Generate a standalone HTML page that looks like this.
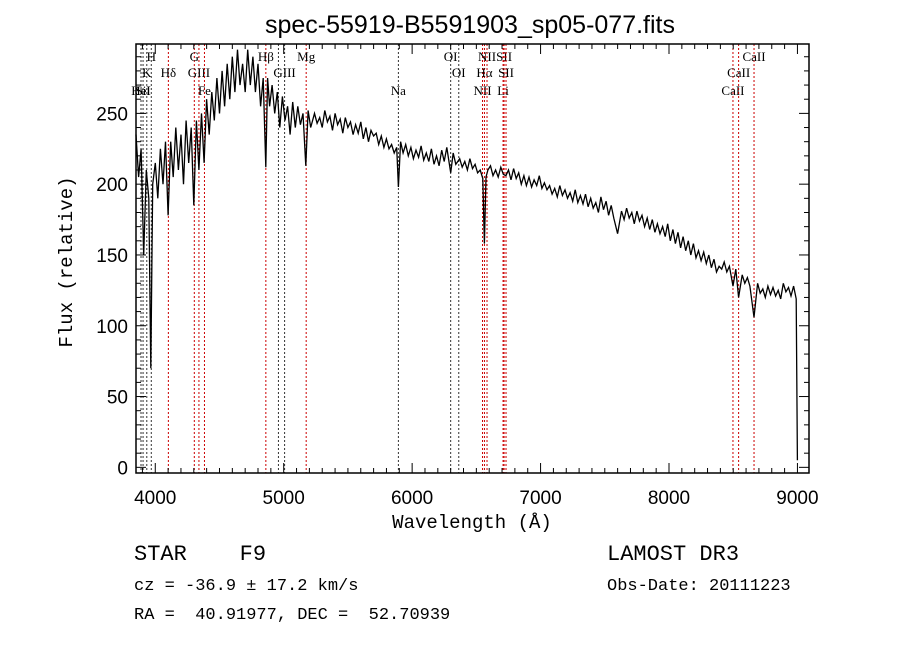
<!DOCTYPE html>
<html><head><meta charset="utf-8"><style>
body{margin:0;background:#fff;width:900px;height:649px;overflow:hidden}
svg{display:block}
text{white-space:pre}
.t{font-family:"Liberation Serif",serif;font-size:13px;fill:#000}
.ax{font-family:"Liberation Sans",sans-serif;font-size:19px;fill:#000}
.m{font-family:"Liberation Mono",monospace;fill:#000}
</style></head><body>
<svg id="chart" width="900" height="649" viewBox="0 0 900 649" xmlns="http://www.w3.org/2000/svg" xml:space="preserve">
<text x="470" y="33" text-anchor="middle" font-family="Liberation Sans, sans-serif" font-size="25">spec-55919-B5591903_sp05-077.fits</text>
<g id="lines"></g>
<g id="spec"></g>
<rect x="136" y="44" width="673" height="429" fill="none" stroke="#000" stroke-width="1.5"/>
<g id="axes"></g>
<text x="472" y="528" text-anchor="middle" class="m" font-size="19">Wavelength (Å)</text>
<text transform="translate(72,262) rotate(-90)" text-anchor="middle" class="m" font-size="19">Flux (relative)</text>
<text x="134" y="560" class="m" font-size="22">STAR    F9</text>
<text x="134" y="590" class="m" font-size="17">cz = -36.9 ± 17.2 km/s</text>
<text x="134" y="619" class="m" font-size="17">RA =  40.91977, DEC =  52.70939</text>
<text x="607" y="560" class="m" font-size="22">LAMOST DR3</text>
<text x="607" y="590" class="m" font-size="17">Obs-Date: 20111223</text>
</svg>
<script>
const wave=[3850,3870,3890,3910,3930,3950,3965,3980,4000,4020,
4040,4060,4080,4100,4120,4140,4160,4180,4200,4220,
4240,4260,4280,4300,4320,4340,4360,4380,4400,4420,
4440,4460,4480,4500,4520,4540,4560,4580,4600,4620,
4640,4660,4680,4700,4720,4740,4760,4780,4800,4820,
4840,4861,4875,4890,4910,4930,4950,4970,4990,5010,
5030,5050,5070,5090,5110,5130,5150,5172,5190,5210,
5240,5260,5280,5300,5320,5340,5360,5380,5400,5420,
5440,5460,5480,5500,5520,5540,5560,5580,5600,5620,
5640,5660,5680,5700,5720,5740,5760,5780,5800,5820,
5840,5860,5880,5893,5910,5930,5950,5970,5990,6010,
6030,6050,6070,6090,6110,6130,6150,6170,6190,6210,
6230,6250,6270,6300,6320,6340,6370,6390,6410,6430,
6450,6470,6490,6510,6530,6550,6563,6575,6590,6610,
6630,6650,6670,6690,6710,6730,6750,6770,6790,6810,
6830,6850,6870,6890,6910,6930,6950,6970,6990,7010,
7030,7050,7070,7090,7110,7130,7150,7170,7190,7210,
7230,7250,7270,7290,7310,7330,7350,7370,7390,7410,
7430,7450,7470,7490,7510,7530,7550,7570,7600,7630,
7650,7670,7690,7710,7730,7750,7770,7790,7810,7830,
7850,7870,7890,7910,7930,7950,7970,7990,8010,8030,
8050,8070,8090,8110,8130,8150,8170,8190,8210,8230,
8250,8270,8290,8310,8330,8350,8370,8390,8410,8430,
8450,8470,8498,8520,8542,8570,8590,8610,8630,8662,
8690,8710,8730,8750,8770,8790,8810,8830,8850,8870,
8890,8910,8930,8950,8970,8990,9000];
const flux=[235,205,225,150,210,190,70,200,215,190,
225,200,230,178,230,205,240,210,235,200,
245,215,240,185,245,210,250,215,260,235,
265,245,275,250,280,255,285,260,290,265,
295,270,285,265,295,270,290,265,285,255,
275,212,275,255,270,250,265,240,262,245,
255,235,258,240,255,242,250,213,252,240,
250,243,247,240,252,244,248,238,250,242,
246,236,247,240,244,235,242,236,244,232,
240,230,238,234,236,228,234,226,232,225,
228,222,226,198,230,222,228,220,226,218,
224,219,227,217,222,216,225,214,220,213,
224,216,226,208,222,214,218,212,216,210,
218,211,214,208,210,204,158,205,210,213,
206,210,205,212,207,206,210,203,211,204,
208,200,206,199,205,198,203,199,206,197,
201,196,199,193,197,191,199,192,196,190,
194,188,196,187,192,186,193,184,190,183,
187,180,191,182,188,178,185,176,165,181,
175,183,176,180,172,181,174,178,170,176,
168,175,166,172,165,170,163,172,160,168,
158,166,155,163,153,160,150,158,148,153,
146,152,144,150,141,147,138,142,140,145,
138,142,128,140,120,136,130,134,128,106,
130,123,126,120,128,122,127,121,125,119,
130,124,127,121,128,119,5];
const lineWave=[3889,3905,3934,3969,4102,4304,4340,4383,4861,4959,5007,5175,5893,6300,6363,6548,6563,6583,6708,6716,6731,8498,8542,8662];
const lineLabel=["HeI","SiI","K","H","Hδ","G","GIII","Fe","Hβ","","GIII","Mg","Na","OI","OI","NII","Hα","NII","Li","SII","SII","CaII","CaII","CaII"];
const lineRow=[3,3,2,1,2,1,2,3,1,3,2,1,3,1,2,3,2,1,3,1,2,3,2,1];
const lineRed=[0,0,0,0,1,1,1,1,1,0,0,1,0,0,0,1,1,1,1,1,1,1,1,1];
const xTicks=[4000,5000,6000,7000,8000,9000];
const yTicks=[0,50,100,150,200,250];
const X0=3850,X1=9090,Y0=-4,Y1=299,L=136,R=809,T=44,B=473;
const sx=w=>L+(w-X0)/(X1-X0)*(R-L);
const sy=f=>B-(f-Y0)/(Y1-Y0)*(B-T);
const NS="http://www.w3.org/2000/svg";
function mk(tag,attrs,parent){const e=document.createElementNS(NS,tag);for(const k in attrs)e.setAttribute(k,attrs[k]);parent.appendChild(e);return e;}
const gl=document.getElementById('lines'),gs=document.getElementById('spec'),ga=document.getElementById('axes');
const rowY=[0,61,77,95];
lineWave.forEach((w,i)=>{
  const x=sx(w);
  const l=mk('line',{x1:x,x2:x,y1:T,y2:B,stroke:lineRed[i]?'#c00':'#333','stroke-width':1,'stroke-dasharray':'2,2'},gl);
  
  
  if(lineLabel[i]){
    const t=mk('text',{x:x,y:rowY[lineRow[i]],'text-anchor':'middle',class:'t'},gl);
    t.textContent=lineLabel[i];
    
    
  }
});
let d='';
const n=Math.min(wave.length,flux.length);
for(let i=0;i<n;i++){d+=(i?'L':'M')+sx(wave[i]).toFixed(1)+','+sy(Math.min(flux[i],Y1)).toFixed(1);}
const p=mk('path',{d:d,fill:'none',stroke:'#000','stroke-width':1.3},gs);


for(let w=3900;w<=9050;w+=100){
  const x=sx(w),big=w%1000===0;
  mk('line',{x1:x,x2:x,y1:B,y2:B-(big?10:5),stroke:'#000'},ga);
  mk('line',{x1:x,x2:x,y1:T,y2:T+(big?10:5),stroke:'#000'},ga);
}
xTicks.forEach(w=>{const t=mk('text',{x:sx(w),y:B+31,'text-anchor':'middle',class:'ax'},ga);t.textContent=w;
  
  });
for(let f=0;f<=290;f+=10){
  const y=sy(f),big=f%50===0;
  mk('line',{x1:L,x2:L+(big?10:5),y1:y,y2:y,stroke:'#000'},ga);
  mk('line',{x1:R,x2:R-(big?10:5),y1:y,y2:y,stroke:'#000'},ga);
}
yTicks.forEach(f=>{const t=mk('text',{x:128,y:sy(f)+7,'text-anchor':'end',class:'ax'},ga);t.textContent=f;
  
  });
</script>
</body></html>
